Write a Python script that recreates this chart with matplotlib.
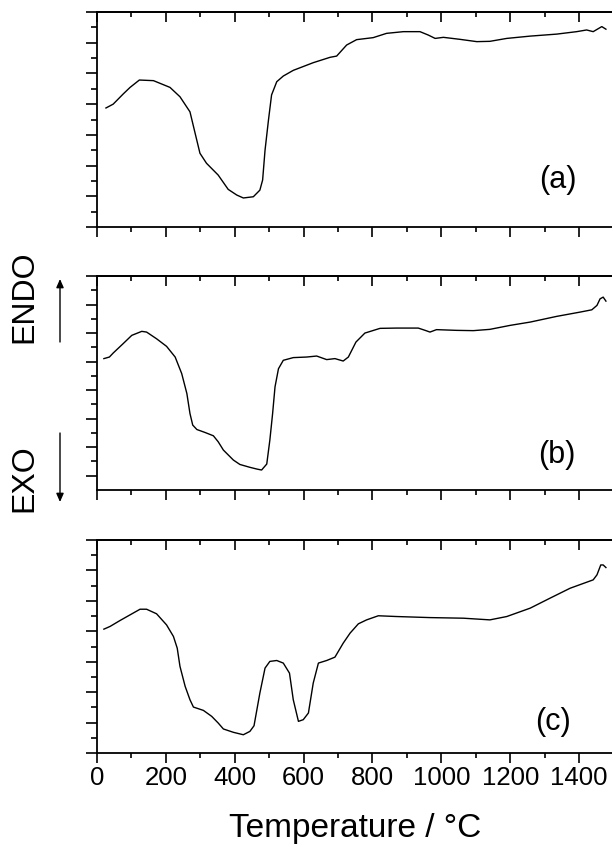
import matplotlib
matplotlib.use("Agg")
import matplotlib.pyplot as plt
from matplotlib.ticker import MultipleLocator, FixedLocator, NullFormatter

plt.rcParams['font.family'] = ['Liberation Sans', 'DejaVu Sans']

# ---- data (y in arbitrary units) ----
temp_a = [26, 47, 76, 96, 123, 164, 212, 241, 270, 285, 299, 318, 352, 381, 406, 425,
          454, 473, 481, 488, 498, 507, 522, 541, 570, 628, 677, 696, 725, 754, 802,
          841, 890, 938, 962, 982, 1006, 1054, 1103, 1141, 1190, 1258, 1335, 1393,
          1422, 1441, 1466, 1478]
heat_a = [7.75, 8.0, 8.66, 9.09, 9.57, 9.53, 9.09, 8.48, 7.5, 6.1, 4.8, 4.15, 3.38, 2.45,
          2.08, 1.89, 1.97, 2.4, 3.06, 5.0, 6.97, 8.6, 9.46, 9.83, 10.2, 10.7, 11.05,
          11.13, 11.85, 12.2, 12.33, 12.61, 12.72, 12.72, 12.5, 12.28, 12.35, 12.22,
          12.07, 12.09, 12.28, 12.43, 12.56, 12.72, 12.83, 12.72, 13.05, 12.88]

temp_b = [20, 36, 47, 76, 101, 130, 144, 173, 202, 227, 246, 261, 270, 278, 290, 314,
          338, 352, 367, 396, 415, 444, 464, 478, 493, 502, 510, 517, 527, 541, 570,
          609, 638, 667, 691, 715, 730, 752, 778, 822, 870, 933, 953, 967, 986, 1044,
          1093, 1141, 1200, 1258, 1335, 1403, 1437, 1452, 1461, 1470, 1478]
heat_b = [9.21, 9.32, 9.6, 10.26, 10.84, 11.12, 11.07, 10.6, 10.07, 9.32, 8.16, 6.76,
          5.36, 4.55, 4.24, 4.03, 3.8, 3.38, 2.8, 2.1, 1.79, 1.59, 1.47, 1.4, 1.82, 3.5,
          5.36, 7.23, 8.5, 9.09, 9.28, 9.32, 9.39, 9.14, 9.21, 9.04, 9.32, 10.37, 11.0,
          11.33, 11.35, 11.35, 11.19, 11.07, 11.24, 11.19, 11.17, 11.26, 11.54, 11.77,
          12.17, 12.47, 12.63, 12.94, 13.4, 13.52, 13.24]

temp_c = [20, 38, 67, 96, 125, 144, 173, 202, 222, 233, 241, 256, 270, 280, 309, 333,
          352, 367, 396, 425, 444, 456, 473, 488, 502, 522, 541, 559, 570, 585, 599,
          614, 628, 643, 667, 691, 715, 735, 759, 783, 817, 870, 967, 1064, 1141, 1190,
          1258, 1316, 1374, 1441, 1452, 1463, 1470, 1478]
heat_c = [8.14, 8.32, 8.71, 9.08, 9.45, 9.45, 9.15, 8.42, 7.66, 6.89, 5.69, 4.38, 3.5,
          3.02, 2.8, 2.41, 1.97, 1.58, 1.36, 1.2, 1.42, 1.79, 3.94, 5.58, 6.02, 6.08,
          5.91, 5.25, 3.5, 2.08, 2.19, 2.63, 4.6, 5.91, 6.08, 6.3, 7.22, 7.88, 8.49,
          8.75, 9.02, 8.97, 8.9, 8.86, 8.75, 8.97, 9.52, 10.18, 10.83, 11.38, 11.71,
          12.36, 12.36, 12.19]

panel_labels = ["(a)", "(b)", "(c)"]
x_ticks = [0, 200, 400, 600, 800, 1000, 1200, 1400]
x_label = "Temperature / °C"

W, H = 612, 848
fig = plt.figure(figsize=(W / 100, H / 100), dpi=100)

left_px = 97
ax_w_px = 516.5
panels = [  # (top_px, bottom_px, ymax, major offset)
    (12, 227, 14, 0),
    (276, 490, 15, 1),
    (540, 753, 14, 0),
]
series = [(temp_a, heat_a), (temp_b, heat_b), (temp_c, heat_c)]
label_pos = [(558, 180), (557, 455), (553, 722)]

axes = []
for i, ((top, bot, ymax, off), (tx, hy)) in enumerate(zip(panels, series)):
    ax = fig.add_axes([left_px / W, 1 - bot / H, ax_w_px / W, (bot - top) / H])
    ax.plot(tx, hy, color='black', lw=1.0)
    ax.set_xlim(0, 1500)
    ax.set_ylim(0, ymax)
    for s in ['left', 'top', 'bottom']:
        ax.spines[s].set_linewidth(1.3)
    ax.spines['right'].set_visible(False)
    ax.xaxis.set_major_locator(FixedLocator(x_ticks))
    ax.xaxis.set_minor_locator(MultipleLocator(100))
    ax.yaxis.set_major_locator(FixedLocator(list(range(off, ymax + 1, 2))))
    ax.yaxis.set_minor_locator(FixedLocator(list(range(off + 1, ymax + 1, 2))))
    ax.yaxis.set_major_formatter(NullFormatter())
    ax.tick_params(axis='y', which='major', direction='out', length=8, width=1.2, left=True, right=False)
    ax.tick_params(axis='y', which='minor', direction='out', length=4, width=1.2, left=True, right=False)
    ax.tick_params(axis='x', which='major', length=7, width=1.2, direction='out',
                   top=False, bottom=True, labelsize=18.5, pad=2.5)
    ax.tick_params(axis='x', which='minor', length=3.6, width=1.2, direction='out',
                   top=False, bottom=True)
    # top ticks inward via secondary axis
    sec = ax.secondary_xaxis('top')
    sec.xaxis.set_major_locator(FixedLocator(x_ticks))
    sec.xaxis.set_minor_locator(MultipleLocator(100))
    sec.tick_params(axis='x', which='major', direction='in', length=7, width=1.2, labeltop=False)
    sec.tick_params(axis='x', which='minor', direction='in', length=3.6, width=1.2)
    sec.spines['top'].set_linewidth(1.3)
    if i < 2:
        ax.tick_params(axis='x', labelbottom=False)
    lx, ly = label_pos[i]
    fig.text(lx / W, 1 - ly / H, panel_labels[i], fontsize=22, ha='center', va='center')
    axes.append(ax)

axes[2].set_xticklabels([str(t) for t in x_ticks])

fig.text(355 / W, 1 - 829 / H, x_label, fontsize=24, ha='center', va='center')

# ENDO / EXO side labels with arrows
fig.text(24 / W, 1 - 297 / H, "ENDO", fontsize=23, rotation=90, ha='center', va='center')
fig.text(24 / W, 1 - 478 / H, "EXO", fontsize=23, rotation=90, ha='center', va='center')
fig.patches.append(matplotlib.patches.FancyArrowPatch(
    (60 / W, 1 - 342 / H), (60 / W, 1 - 279 / H), transform=fig.transFigure,
    arrowstyle='-|>,head_length=5,head_width=2.2', color='black', lw=1.0, shrinkA=0, shrinkB=0))
fig.patches.append(matplotlib.patches.FancyArrowPatch(
    (60 / W, 1 - 433 / H), (60 / W, 1 - 502 / H), transform=fig.transFigure,
    arrowstyle='-|>,head_length=5,head_width=2.2', color='black', lw=1.0, shrinkA=0, shrinkB=0))

fig.savefig("out.png", dpi=100)
